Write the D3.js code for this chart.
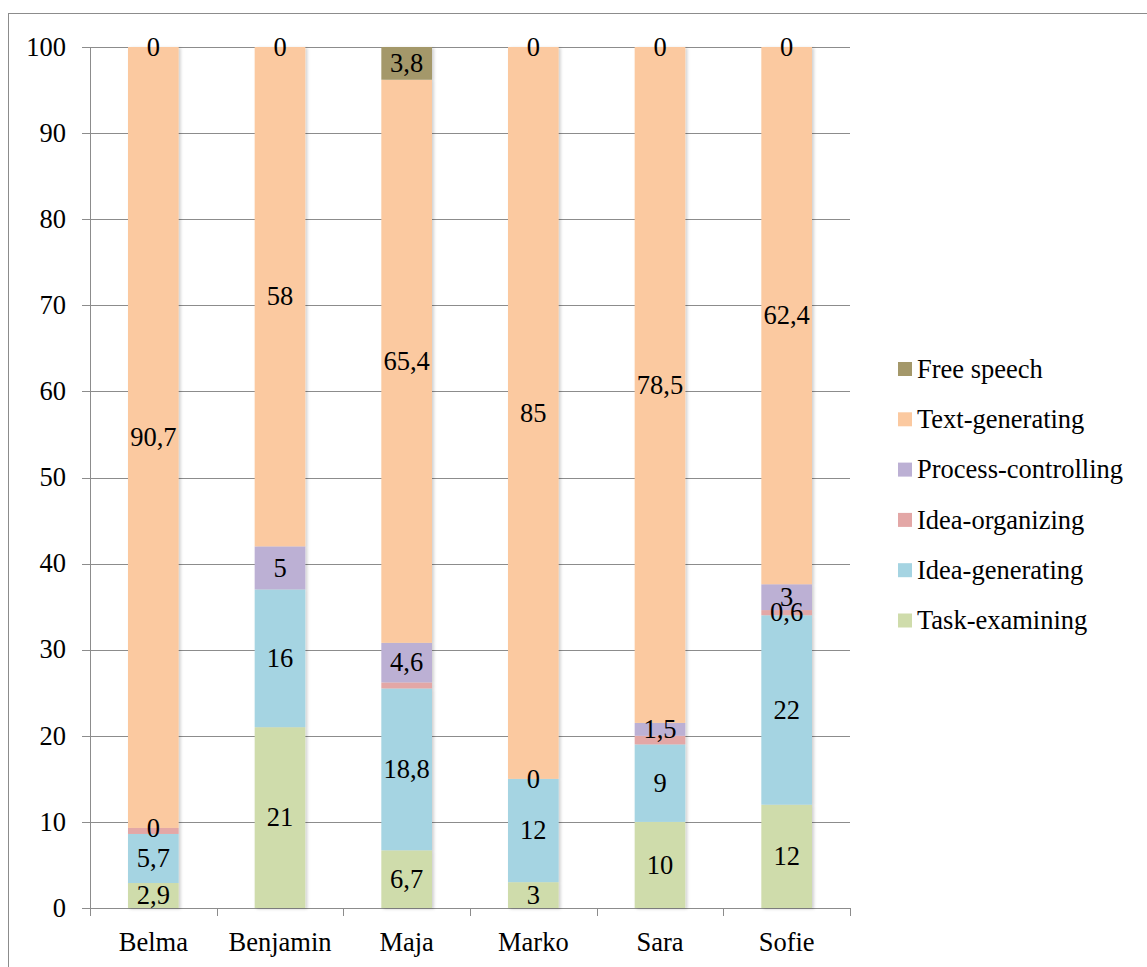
<!DOCTYPE html>
<html>
<head>
<meta charset="utf-8">
<script src="https://cdn.jsdelivr.net/npm/d3@7"></script>
<style>
  body { margin: 0; background: #fff; }
</style>
</head>
<body>
<svg id="chart" width="1147" height="967"></svg>
<script>
// Data
const people = ["Belma", "Benjamin", "Maja", "Marko", "Sara", "Sofie"];
const series = ["Task-examining", "Idea-generating", "Idea-organizing", "Process-controlling", "Text-generating", "Free speech"];
const colors = ["#cfdcab", "#a5d4e2", "#e3a7a6", "#bcb0d4", "#fbc9a0", "#a4986a"];

const taskExamining = [2.9, 21, 6.7, 3, 10, 12];
const ideaGenerating = [5.7, 16, 18.8, 12, 9, 22];
const ideaOrganizing = [0.7, 0, 0.7, 0, 1, 0.6];
const processControlling = [0, 5, 4.6, 0, 1.5, 3];
const textGenerating = [90.7, 58, 65.4, 85, 78.5, 62.4];
const freeSpeech = [0, 0, 3.8, 0, 0, 0];

// which labels the original shows (1 = shown)
const showTask = [1, 1, 1, 1, 1, 1];
const showIdeaGen = [1, 1, 1, 1, 1, 1];
const showIdeaOrg = [0, 0, 0, 1, 0, 1];
const showProcess = [1, 1, 1, 0, 1, 1];
const showText = [1, 1, 1, 1, 1, 1];
const showFree = [1, 1, 1, 1, 1, 1];

const yTicks = [0, 10, 20, 30, 40, 50, 60, 70, 80, 90, 100];

/* SETUP */
const values = [taskExamining, ideaGenerating, ideaOrganizing, processControlling, textGenerating, freeSpeech];
const shows = [showTask, showIdeaGen, showIdeaOrg, showProcess, showText, showFree];

let table = people.map((p, i) => {
    let row = { name: p };
    series.forEach((s, j) => row[s] = values[j][i]);
    return row;
});

let stacked = d3.stack().keys(series)(table);

let fontSize = "26.5px";
let svg = d3.select("#chart")
    .style("font-family", "'Liberation Serif', 'Times New Roman', 'DejaVu Serif', serif");
let plotLeft = 90, plotRight = 850, plotTop = 47, plotBottom = 908;
let grey = "#8c8c8c";

let x = d3.scaleBand().domain(people).range([plotLeft, plotRight]).paddingInner(0.6).paddingOuter(0.3);
let xOuter = d3.scaleBand().domain(people).range([plotLeft, plotRight]);
let y = d3.scaleLinear().domain([0, 100]).range([plotBottom, plotTop]);
let color = d3.scaleOrdinal().domain(series).range(colors);
let fmt = v => d3.format(",")(v).replace(".", ",");

// outer frame
svg.append("rect")
    .attr("x", 8.5).attr("y", 13.5)
    .attr("width", 1150).attr("height", 970)
    .attr("fill", "none").attr("stroke", grey);

// shadow filter
let defs = svg.append("defs");
let f = defs.append("filter").attr("id", "shadow")
    .attr("x", "-20%").attr("y", "-5%").attr("width", "140%").attr("height", "110%");
f.append("feDropShadow").attr("dx", 2).attr("dy", 1).attr("stdDeviation", 1.5)
    .attr("flood-color", "#000").attr("flood-opacity", 0.18);

// gridlines + y ticks
svg.append("g")
    .selectAll("line")
    .data(yTicks)
    .join("line")
    .attr("x1", plotLeft - 8).attr("x2", plotRight)
    .attr("y1", d => Math.round(y(d)) + 0.5).attr("y2", d => Math.round(y(d)) + 0.5)
    .attr("stroke", grey).attr("stroke-width", 1);

svg.append("g")
    .selectAll("text")
    .data(yTicks)
    .join("text")
    .attr("x", 66).attr("y", d => y(d))
    .attr("dy", "0.33em")
    .attr("text-anchor", "end")
    .style("font-size", fontSize)
    .text(d => d);

// y axis line
svg.append("line")
    .attr("x1", plotLeft + 0.5).attr("x2", plotLeft + 0.5)
    .attr("y1", plotTop).attr("y2", plotBottom)
    .attr("stroke", grey);

// x ticks
let xTickPos = people.map(p => xOuter(p)).concat([plotRight]);
svg.append("g")
    .selectAll("line")
    .data(xTickPos)
    .join("line")
    .attr("x1", d => Math.round(d) + 0.5).attr("x2", d => Math.round(d) + 0.5)
    .attr("y1", plotBottom).attr("y2", plotBottom + 8)
    .attr("stroke", grey);

svg.append("g")
    .selectAll("text")
    .data(people)
    .join("text")
    .attr("x", d => xOuter(d) + xOuter.bandwidth() / 2)
    .attr("y", 951)
    .attr("text-anchor", "middle")
    .style("font-size", fontSize)
    .text(d => d);

// bars
let layers = svg.append("g").attr("filter", "url(#shadow)");
layers.selectAll("g")
    .data(stacked)
    .join("g")
    .attr("fill", d => color(d.key))
    .selectAll("rect")
    .data(d => d)
    .join("rect")
    .attr("x", d => x(d.data.name))
    .attr("y", d => y(d[1]))
    .attr("width", x.bandwidth())
    .attr("height", d => y(d[0]) - y(d[1]));

// data labels
let labelGroup = svg.append("g");
stacked.forEach((layer, j) => {
    labelGroup.selectAll(".lbl" + j)
        .data(layer.filter((d, i) => shows[j][i]))
        .join("text")
        .attr("class", "lbl" + j)
        .attr("x", d => x(d.data.name) + x.bandwidth() / 2)
        .attr("y", d => y((d[0] + d[1]) / 2))
        .attr("dy", "0.33em")
        .attr("text-anchor", "middle")
        .style("font-size", fontSize)
        .text(d => fmt(d[1] - d[0]));
});

// legend
let legendOrder = series.slice().reverse();
let legend = svg.append("g")
    .selectAll("g")
    .data(legendOrder)
    .join("g")
    .attr("transform", (d, i) => `translate(898, ${369 + i * 50.3})`);

legend.append("rect")
    .attr("x", 0).attr("y", -7)
    .attr("width", 14).attr("height", 14)
    .attr("fill", d => color(d));

legend.append("text")
    .attr("x", 19).attr("y", 0)
    .attr("dy", "0.33em")
    .style("font-size", fontSize)
    .text(d => d);
</script>
</body>
</html>
